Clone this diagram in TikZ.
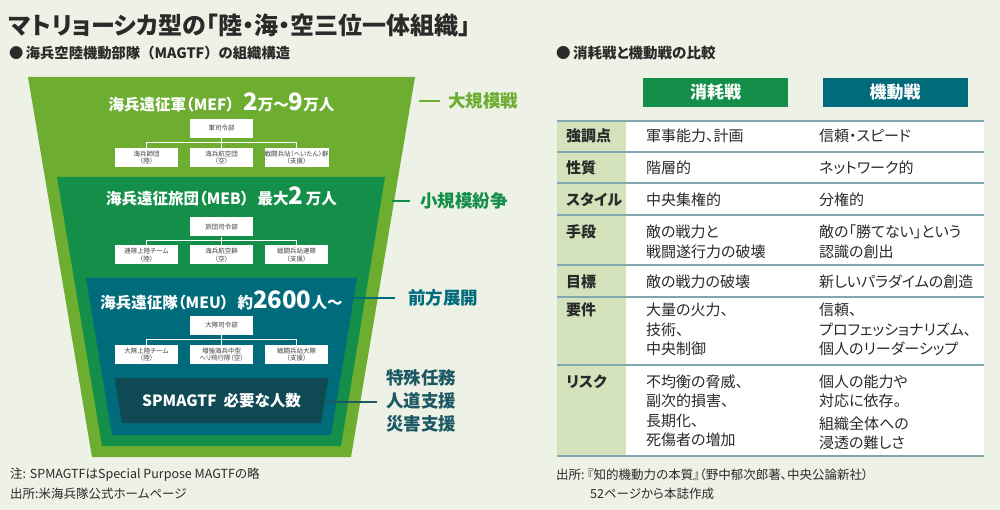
\documentclass[tikz,border=0pt]{standalone}
\usepackage{fontspec}
\setmainfont{Noto Sans CJK JP}[RawFeature=+palt]
\newfontfamily\fullwidthfont{Noto Sans CJK JP}
\usetikzlibrary{positioning}

\begin{document}
\begin{tikzpicture}[x=1pt,y=-1pt,declare function={
    %%funnel params
    cx = 221.5;
    colA = 566;
    colB = 646;
    colC = 819;
  },
  orgbox/.style={fill=white,minimum width=63pt,minimum height=19pt,inner sep=0pt,align=center,
    text=black!75,font=\fontsize{6.5}{7.5}\selectfont},
  orgline/.style={white,line width=1.3pt},
  layertitle/.style={text=white,inner sep=0pt,font=\bfseries\fontsize{15.5}{17}\selectfont},
  sidelabel/.style={anchor=west,inner sep=0pt,font=\bfseries\fontsize{17.5}{23}\selectfont},
  sideline/.style={line width=2.2pt},
  headbox/.style={minimum width=145pt,minimum height=29pt,inner sep=0pt,text=white,
    font=\bfseries\fontsize{17}{20}\selectfont},
  cell/.style={anchor=west,inner sep=0pt,align=left,text=txtgray,font=\fontsize{15}{19.5}\selectfont},
  rowhead/.style={cell,font=\bfseries\fontsize{15}{19.5}\selectfont},
  note/.style={anchor=west,inner sep=0pt,text=txtgray,font=\fontsize{12.5}{14}\selectfont},
]
\definecolor{bgcream}{HTML}{EEF1E5}
\definecolor{lgreen}{HTML}{6DAE31}
\definecolor{dgreen}{HTML}{148F4A}
\definecolor{teal2}{HTML}{006B7B}
\definecolor{dteal}{HTML}{0F4A54}
\definecolor{spmtext}{HTML}{1D5964}
\definecolor{labelgreen}{HTML}{D4E2BB}
\definecolor{rulecol}{HTML}{80A6AE}
\definecolor{txtgray}{HTML}{2A2A2A}

\fill[bgcream] (0,0) rectangle (1000,510);
\useasboundingbox (0,0) rectangle (1000,510);

%%%%%%%%%%%%%%%% titles
\node[anchor=west,inner sep=0pt,text=txtgray,font=\bfseries\fontsize{24}{27}\selectfont] (title) at (9,25)
  {マトリョーシカ型の「陸・海・空三位一体組織」};
\node[anchor=west,inner sep=0pt,text=txtgray,font=\fullwidthfont\bfseries\fontsize{14.3}{17}\selectfont] (subL) at (9,53)
  {●\,海兵空陸機動部隊（MAGTF）の組織構造};
\node[anchor=west,inner sep=0pt,text=txtgray,font=\bfseries\fontsize{14.5}{17}\selectfont] (subR) at (556,53)
  {●\,消耗戦と機動戦の比較};

%%%%%%%%%%%%%%%% funnel
\fill[lgreen] (cx-193.5,77) -- (cx+193.5,77) -- (cx+129.5,457) -- (cx-129.5,457) -- cycle;
\fill[dgreen] (cx-164.5,177) -- (cx+163.5,177) -- (cx+119.5,446) -- (cx-119.5,446) -- cycle;
\fill[teal2] (cx-135.5,278) -- (cx+135.5,278) -- (cx+109.5,435) -- (cx-109.5,435) -- cycle;
\fill[dteal] (cx-107,378) -- (cx+107,378) -- (cx+99.5,423) -- (cx-99.5,423) -- cycle;

%% MEF
\node[layertitle] (mefT) at (cx,102)
  {海兵遠征軍（MEF）\hspace{9pt}{\fontsize{24}{24}\selectfont 2}万〜{\fontsize{24}{24}\selectfont 9}万人};
\node[orgbox] (mefhq) at (cx,128.5) {軍司令部};
\node[orgbox] (mefa) at (cx-75,157.5) {海兵師団\\（陸）};
\node[orgbox] (mefb) at (cx,157.5) {海兵航空団\\（空）};
\node[orgbox] (mefc) at (cx+75,157.5) {戦闘兵站（へいたん）群\\（支援）};
\draw[orgline] (mefhq.south) -- (mefb.north);
\draw[orgline] (mefa.north) -- ++(0,-5) -| (mefc.north);

%% MEB
\node[layertitle] (mebT) at (cx,196)
  {海兵遠征旅団（MEB）\hspace{9pt}最大{\fontsize{24}{24}\selectfont 2}\,万人};
\node[orgbox] (mebhq) at (cx,227) {旅団司令部};
\node[orgbox] (meba) at (cx-75,255) {連隊上陸チーム\\（陸）};
\node[orgbox] (mebb) at (cx,255) {海兵航空群\\（空）};
\node[orgbox] (mebc) at (cx+75,255) {戦闘兵站連隊\\（支援）};
\draw[orgline] (mebhq.south) -- (mebb.north);
\draw[orgline] (meba.north) -- ++(0,-5) -| (mebc.north);

%% MEU
\node[layertitle] (meuT) at (cx,300)
  {海兵遠征隊（MEU）\hspace{9pt}約{\fontsize{24}{24}\selectfont 2600}人〜};
\node[orgbox] (meuhq) at (cx,325) {大隊司令部};
\node[orgbox] (meua) at (cx-75,354.5) {大隊上陸チーム\\（陸）};
\node[orgbox] (meub) at (cx,354.5) {増強海兵中型\\ヘリ飛行隊（空）};
\node[orgbox] (meuc) at (cx+75,354.5) {戦闘兵站大隊\\（支援）};
\draw[orgline] (meuhq.south) -- (meub.north);
\draw[orgline] (meua.north) -- ++(0,-5) -| (meuc.north);

%% SPMAGTF
\node[text=white,inner sep=0pt,font=\bfseries\fontsize{15.5}{18}\selectfont] (spm) at (cx,401)
  {SPMAGTF\ \ 必要な人数};

%%%%%%%%%%%%%%%% side labels
\coordinate (edgeMEF) at (419,101);
\coordinate (edgeMEB) at (392,201);
\coordinate (edgeMEU) at (353,298);
\coordinate (edgeSPM) at (325,402);
\node[sidelabel,text=lgreen] (labMEF) at (448,101) {大規模戦};
\node[sidelabel,text=dgreen] (labMEB) at (420,201) {小規模紛争};
\node[sidelabel,text=teal2] (labMEU) at (408,298) {前方展開};
\node[sidelabel,text=spmtext,align=left] (labSPM) at (386,401) {特殊任務\\人道支援\\災害支援};
\draw[sideline,lgreen] (edgeMEF) -- ([xshift=-8pt]labMEF.west);
\draw[sideline,dgreen] (edgeMEB) -- ([xshift=-10pt]labMEB.west);
\draw[sideline,teal2] (edgeMEU) -- ([xshift=-13pt]labMEU.west);
\draw[sideline,spmtext] (edgeSPM) -- ([xshift=-9pt]labSPM.west |- edgeSPM);

%% notes
\node[note] (noteA) at (10,475) {注: SPMAGTFはSpecial Purpose MAGTFの略};
\node[note] (noteB) at (10,494) {出所:米海兵隊公式ホームページ};

%%%%%%%%%%%%%%%% comparison table
\node[headbox,fill=dgreen] (hdA) at (715.5,92.5) {消耗戦};
\node[headbox,fill=teal2] (hdB) at (895,92.5) {機動戦};

\fill[white] (557,121) rectangle (984,456);
\fill[labelgreen] (557,121) rectangle (626,456);
\foreach \y in {121,152,183,215,265,297,365,456}
  \draw[rulecol,line width=1.6pt] (557,\y) -- (984,\y);

\node[rowhead] (r1) at (colA,136) {強調点};
\node[cell] (r1a) at (colB,136) {軍事能力、計画};
\node[cell] (r1b) at (colC,136) {信頼・スピード};

\node[rowhead] (r2) at (colA,168) {性質};
\node[cell] (r2a) at (colB,168) {階層的};
\node[cell] (r2b) at (colC,168) {ネットワーク的};

\node[rowhead] (r3) at (colA,200) {スタイル};
\node[cell] (r3a) at (colB,200) {中央集権的};
\node[cell] (r3b) at (colC,200) {分権的};

\node[rowhead] (r4) at (colA,232) {手段};
\node[cell] (r4a) at (colB,242) {敵の戦力と\\戦闘遂行力の破壊};
\node[cell] (r4b) at (colC,242) {敵の「勝てない」という\\認識の創出};

\node[rowhead] (r5) at (colA,282) {目標};
\node[cell] (r5a) at (colB,282) {敵の戦力の破壊};
\node[cell] (r5b) at (colC,282) {新しいパラダイムの創造};

\node[rowhead] (r6) at (colA,310) {要件};
\node[cell] (r6a) at (colB,329.5) {大量の火力、\\技術、\\中央制御};
\node[cell] (r6b) at (colC,329.5) {信頼、\\プロフェッショナリズム、\\個人のリーダーシップ};

\node[rowhead] (r7) at (colA,382) {リスク};
\node[cell] (r7a) at (colB,411) {不均衡の脅威、\\副次的損害、\\長期化、\\死傷者の増加};
\node[cell] (r7b) at (colC,391.5) {個人の能力や\\対応に依存。};
\node[cell] (r7c) at (colC,433.5) {組織全体への\\浸透の難しさ};

\node[note] (srcA) at (556,475) {出所:\ 『知的機動力の本質』（野中郁次郎著、中央公論新社）};
\node[note] (srcB) at (590,494) {52ページから本誌作成};

\end{tikzpicture}
\end{document}
